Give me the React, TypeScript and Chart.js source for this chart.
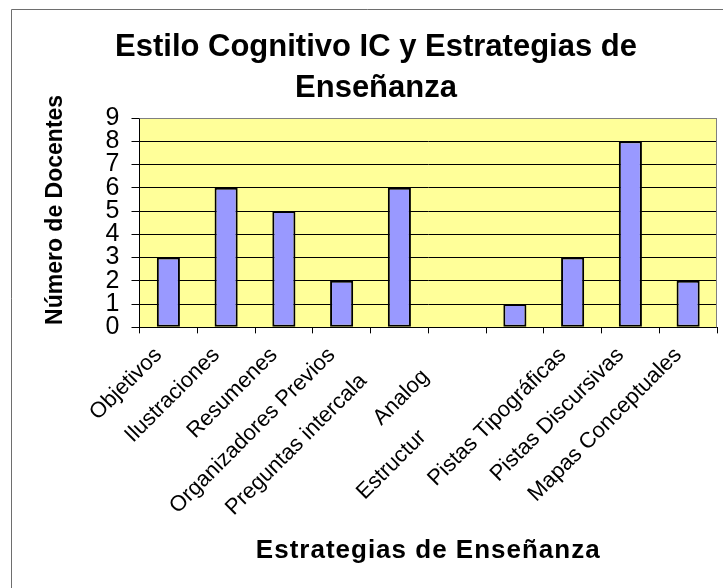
import React, { useEffect, useRef } from "react";
import { Chart, registerables } from "chart.js";
Chart.register(...registerables);

const categories = [
  "Objetivos",
  "Ilustraciones",
  "Resumenes",
  "Organizadores Previos",
  "Preguntas intercaladas",
  "Analogías",
  "Estructuras textuales",
  "Pistas Tipográficas",
  "Pistas Discursivas",
  "Mapas Conceptuales",
];
const docentes = [3, 6, 5, 2, 6, 0, 1, 3, 8, 2];
// characters at the end of each label that are not rendered in the reference
const hiddenTail = [0, 0, 0, 0, 3, 3, 12, 0, 0, 0];
const yMin = 0;
const yMax = 9;
const yStep = 1;
const chartTitle = ["Estilo Cognitivo IC y Estrategias de", "Enseñanza"];
const yTitle = "Número de Docentes";
const xTitle = "Estrategias de Enseñanza";

const FAMILY = "'Liberation Sans', Arial, Helvetica, sans-serif";
const TICK_SIZE = 22;

let measureCtx: CanvasRenderingContext2D | null = null;
function measure(text: string, font: string): number {
  if (!measureCtx) {
    const c = document.createElement("canvas");
    measureCtx = c.getContext("2d");
  }
  measureCtx!.font = font;
  return measureCtx!.measureText(text).width;
}

function categoryLabel(index: number): string {
  const full = categories[index];
  const h = hiddenTail[index];
  if (!h) return full;
  const f = `${TICK_SIZE}px ${FAMILY}`;
  const visible = full.slice(0, full.length - h);
  const tail = full.slice(full.length - h);
  const n = Math.round(measure(tail, f) / measure(" ", f));
  return visible + " ".repeat(n);
}

const framePlugin = {
  id: "frame",
  beforeDraw(chart: any) {
    const { ctx, chartArea: a, width, height } = chart;
    ctx.save();
    ctx.fillStyle = "#ffffff";
    ctx.fillRect(0, 0, width, height);
    ctx.strokeStyle = "#6e6e6e";
    ctx.lineWidth = 1;
    ctx.beginPath();
    ctx.moveTo(11.5, height);
    ctx.lineTo(11.5, 9.5);
    ctx.lineTo(width, 9.5);
    ctx.stroke();
    ctx.fillStyle = "#FFFF99";
    ctx.fillRect(a.left, a.top, a.right - a.left, a.bottom - a.top);
    ctx.restore();
  },
  beforeDatasetsDraw(chart: any) {
    const { ctx, chartArea: a } = chart;
    ctx.save();
    ctx.strokeStyle = "#808080";
    ctx.lineWidth = 1;
    ctx.beginPath();
    ctx.moveTo(a.left, Math.round(a.top) + 0.5);
    ctx.lineTo(Math.round(a.right) - 0.5, Math.round(a.top) + 0.5);
    ctx.lineTo(Math.round(a.right) - 0.5, a.bottom);
    ctx.stroke();
    ctx.restore();
  },
  afterDraw(chart: any) {
    const { ctx, chartArea: a } = chart;
    const xs = chart.scales.x;
    ctx.save();
    ctx.font = `bold 26px ${FAMILY}`;
    (ctx as any).letterSpacing = "1px";
    ctx.fillStyle = "#000";
    ctx.textAlign = "center";
    ctx.textBaseline = "middle";
    ctx.fillText(xTitle, (a.left + a.right) / 2, xs.bottom + 21);
    ctx.restore();
  },
};

export default function App() {
  const ref = useRef<HTMLCanvasElement>(null);
  useEffect(() => {
    document.body.style.margin = "0";
    const yTitleFont = `bold 23px ${FAMILY}`;
    const lead = " ".repeat(Math.round(24 / measure(" ", yTitleFont)));
    const chart = new Chart(ref.current!, {
      type: "bar",
      data: {
        labels: categories,
        datasets: [
          {
            data: docentes,
            backgroundColor: "#9999FF",
            borderColor: "#000000",
            borderWidth: 2,
            borderSkipped: false,
            barPercentage: 0.4,
            categoryPercentage: 1.0,
          },
        ],
      },
      options: {
        animation: false,
        responsive: false,
        maintainAspectRatio: false,
        events: [],
        layout: { padding: { left: 35, right: 6, top: 27, bottom: 58 } },
        plugins: {
          legend: { display: false },
          tooltip: { enabled: false },
          title: {
            display: true,
            text: chartTitle,
            color: "#000",
            font: { family: FAMILY, size: 31, weight: "bold", lineHeight: 41 / 31 },
            padding: { top: 0, bottom: 9 },
          },
        },
        scales: {
          x: {
            grid: {
              drawOnChartArea: false,
              drawTicks: true,
              tickLength: 6,
              color: "#000",
              offset: true,
            },
            border: { display: true, color: "#000", width: 1 },
            ticks: {
              autoSkip: false,
              maxRotation: 45,
              minRotation: 45,
              padding: 9,
              labelOffset: -10,
              color: "#000",
              font: { family: FAMILY, size: TICK_SIZE },
              callback: (_v: any, i: number) => categoryLabel(i),
            },
          },
          y: {
            min: yMin,
            max: yMax,
            ticks: {
              stepSize: yStep,
              autoSkip: false,
              padding: 12,
              color: "#000",
              font: { family: FAMILY, size: 25 },
            },
            grid: {
              color: (c: any) => (c.tick && c.tick.value === yMax ? "#808080" : "#000"),
              tickColor: "#000",
              tickLength: 8,
              lineWidth: 1,
            },
            border: { display: true, color: "#000", width: 1 },
            title: {
              display: true,
              text: lead + yTitle,
              color: "#000",
              font: { family: FAMILY, size: 23, weight: "bold" },
              padding: { top: 7, bottom: 24 },
            },
          },
        },
      },
      plugins: [framePlugin],
    } as any);
    return () => chart.destroy();
  }, []);
  return (
    <canvas
      ref={ref}
      width={723}
      height={588}
      style={{ display: "block", width: 723, height: 588 }}
    />
  );
}
